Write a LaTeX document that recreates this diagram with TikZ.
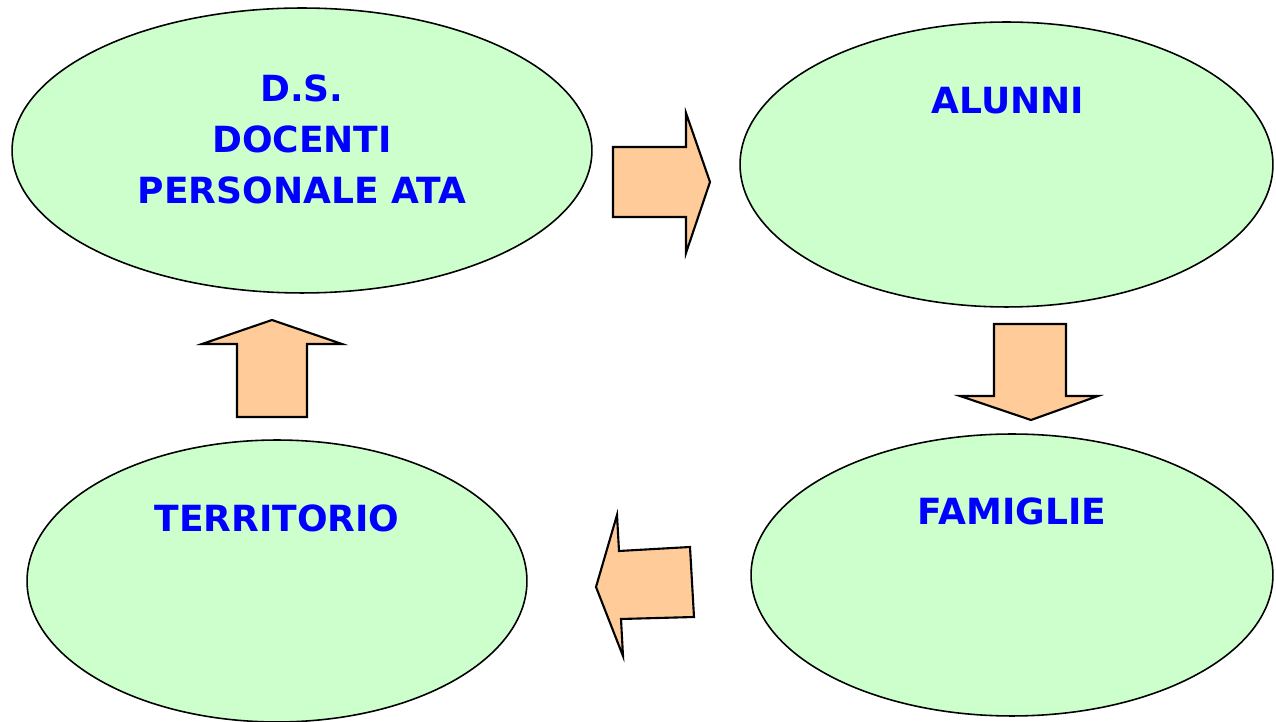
\documentclass[tikz,border=0pt]{standalone}
\usepackage{fontspec}
\setmainfont{DejaVu Sans}
\usepackage{tikz}
\usetikzlibrary{shapes,positioning}
\usepackage{xcolor}
\definecolor{ovalgreen}{RGB}{204,255,204}
\definecolor{arrowpeach}{RGB}{255,204,153}
\definecolor{textblue}{RGB}{0,0,255}
\tikzstyle{oval} = [ellipse, draw=black, fill=ovalgreen, line width=0.9pt, inner sep=0pt]
\tikzstyle{ovaltext} = [text=textblue, font=\bfseries\fontsize{20.5}{29}\selectfont, align=center, inner sep=0pt]
\tikzstyle{blockarrow} = [draw=black, fill=arrowpeach, line width=1.2pt, line join=miter]

\begin{document}
\begin{tikzpicture}[x=0.02cm, y=-0.02cm]
\useasboundingbox (0,0) rectangle (1276,722);
% the four groups
\node[oval, minimum width=11.6cm, minimum height=5.7cm] (staff) at (302,150.5) {};
\node[oval, minimum width=10.66cm, minimum height=5.7cm] (alunni) at (1006.5,164.5) {};
\node[oval, minimum width=10.44cm, minimum height=5.64cm] (famiglie) at (1012,575) {};
\node[oval, minimum width=10cm, minimum height=5.64cm] (territorio) at (277,581) {};
\node[ovaltext] (stafftxt) at (302,139.5) {D.S.\\DOCENTI\\PERSONALE ATA};
\node[ovaltext] (alunnitxt) at (1008,101) {ALUNNI};
\node[ovaltext] (famigliatxt) at (1012,511) {FAMIGLIE};
\node[ovaltext] (territoriotxt) at (277,518) {TERRITORIO};
% block arrows
\draw[blockarrow] (613,147) -- (686,147) -- (686,113) -- (710,182) -- (686,253) -- (686,217) -- (613,217) -- cycle;
\draw[blockarrow] (994,324) -- (1066,324) -- (1066,396) -- (1098,396) -- (1031,420) -- (960,396) -- (994,396) -- cycle;
\draw[blockarrow] (690,547) -- (619,551) -- (617,515) -- (596,587) -- (623,656) -- (621,619) -- (694,617) -- cycle;
\draw[blockarrow] (237,417) -- (237,344) -- (202,344) -- (272,320) -- (342,344) -- (307,344) -- (307,417) -- cycle;
\end{tikzpicture}
\end{document}
